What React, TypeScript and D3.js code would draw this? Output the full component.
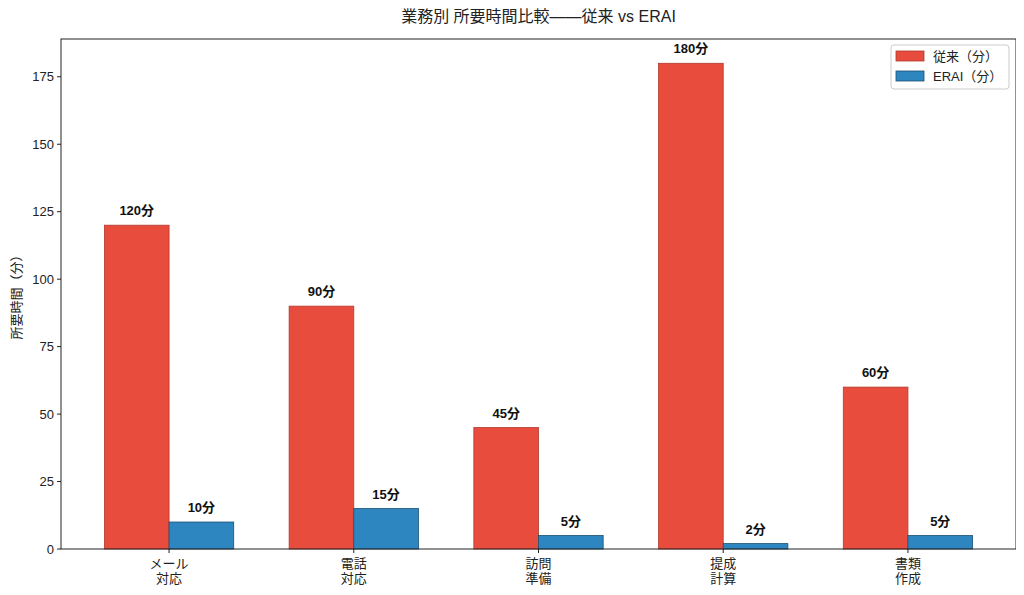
import * as d3 from "d3"
import React, { useRef, useEffect } from "react"

const categories = ["メール\n対応", "電話\n対応", "訪問\n準備", "提成\n計算", "書類\n作成"]
const legacyMinutes = [120, 90, 45, 180, 60]
const eraiMinutes = [10, 15, 5, 2, 5]
const yTicks = [0, 25, 50, 75, 100, 125, 150, 175]
const seriesNames = ["従来（分）", "ERAI（分）"]

const W = 1024
const H = 595
const margin = { top: 39, right: 8, bottom: 46, left: 61 }
const FONT = "'Liberation Sans', 'Noto Sans CJK JP', sans-serif"

function App() {
    const ref = useRef<SVGSVGElement>(null)

    useEffect(() => {
        const svg = d3.select(ref.current)
        svg.selectAll("*").remove()

        const x0 = margin.left
        const x1 = W - margin.right
        const y0 = H - margin.bottom
        const y1 = margin.top

        // matplotlib-like x range: -0.35..4.35 with 5% margins
        const x = d3.scaleLinear().domain([-0.585, 4.585]).range([x0, x1])
        const y = d3.scaleLinear().domain([0, 189]).range([y0, y1])
        const bw = x(0.35) - x(0)

        svg.append("rect")
            .attr("width", W).attr("height", H).attr("fill", "white")

        const series = [
            { values: legacyMinutes, fill: "#e74c3c", stroke: "#b03a2e", off: -0.175 },
            { values: eraiMinutes, fill: "#2e86c1", stroke: "#1b4f72", off: 0.175 },
        ]

        series.forEach(s => {
            svg.append("g")
                .selectAll("rect")
                .data(s.values)
                .enter()
                .append("rect")
                .attr("x", (d, i) => x(i + s.off) - bw / 2)
                .attr("y", d => y(d))
                .attr("width", bw)
                .attr("height", d => y(0) - y(d))
                .attr("fill", s.fill)
                .attr("stroke", s.stroke)
                .attr("stroke-width", 0.8)

            svg.append("g")
                .selectAll("text")
                .data(s.values)
                .enter()
                .append("text")
                .attr("x", (d, i) => x(i + s.off))
                .attr("y", d => y(d) - 10)
                .attr("text-anchor", "middle")
                .attr("font-family", FONT)
                .attr("font-size", 13)
                .attr("font-weight", "bold")
                .attr("fill", "#111")
                .text(d => d + "分")
        })

        // frame
        svg.append("rect")
            .attr("x", x0).attr("y", y1)
            .attr("width", x1 - x0).attr("height", y0 - y1)
            .attr("fill", "none").attr("stroke", "#222").attr("stroke-width", 1)

        // y ticks
        const yg = svg.append("g")
        yTicks.forEach(t => {
            yg.append("line")
                .attr("x1", x0 - 4).attr("x2", x0)
                .attr("y1", y(t)).attr("y2", y(t))
                .attr("stroke", "#222")
            yg.append("text")
                .attr("x", x0 - 7).attr("y", y(t))
                .attr("dy", "0.35em")
                .attr("text-anchor", "end")
                .attr("font-family", FONT)
                .attr("font-size", 13)
                .attr("fill", "#222")
                .text(t)
        })

        // x ticks
        const xg = svg.append("g")
        categories.forEach((c, i) => {
            xg.append("line")
                .attr("x1", x(i)).attr("x2", x(i))
                .attr("y1", y0).attr("y2", y0 + 4)
                .attr("stroke", "#222")
            c.split("\n").forEach((line, j) => {
                xg.append("text")
                    .attr("x", x(i)).attr("y", y0 + 19 + j * 15)
                    .attr("text-anchor", "middle")
                    .attr("font-family", FONT)
                    .attr("font-size", 13)
                    .attr("fill", "#222")
                    .text(line)
            })
        })

        // y label
        svg.append("text")
            .attr("transform", `translate(21,${(y0 + y1) / 2}) rotate(-90)`)
            .attr("text-anchor", "middle")
            .attr("font-family", FONT)
            .attr("font-size", 13)
            .attr("fill", "#222")
            .text("所要時間（分）")

        // title
        svg.append("text")
            .attr("x", (x0 + x1) / 2).attr("y", 22)
            .attr("text-anchor", "middle")
            .attr("font-family", FONT)
            .attr("font-size", 16)
            .attr("fill", "#222")
            .text("業務別 所要時間比較——従来 vs ERAI")

        // legend
        const lg = svg.append("g").attr("transform", "translate(891,45)")
        lg.append("rect")
            .attr("width", 118).attr("height", 44).attr("rx", 3)
            .attr("fill", "white").attr("stroke", "#ccc")
        series.forEach((s, i) => {
            lg.append("rect")
                .attr("x", 5).attr("y", 6 + i * 20)
                .attr("width", 28).attr("height", 10)
                .attr("fill", s.fill).attr("stroke", s.stroke).attr("stroke-width", 0.8)
            lg.append("text")
                .attr("x", 42).attr("y", 11 + i * 20)
                .attr("dy", "0.35em")
                .attr("font-family", FONT)
                .attr("font-size", 13)
                .attr("fill", "#222")
                .text(seriesNames[i])
        })
    }, [])

    return (
        <div>
            <svg ref={ref} width={W} height={H} style={{ display: "block", margin: -8 }}></svg>
        </div>
    )
}

export default App
